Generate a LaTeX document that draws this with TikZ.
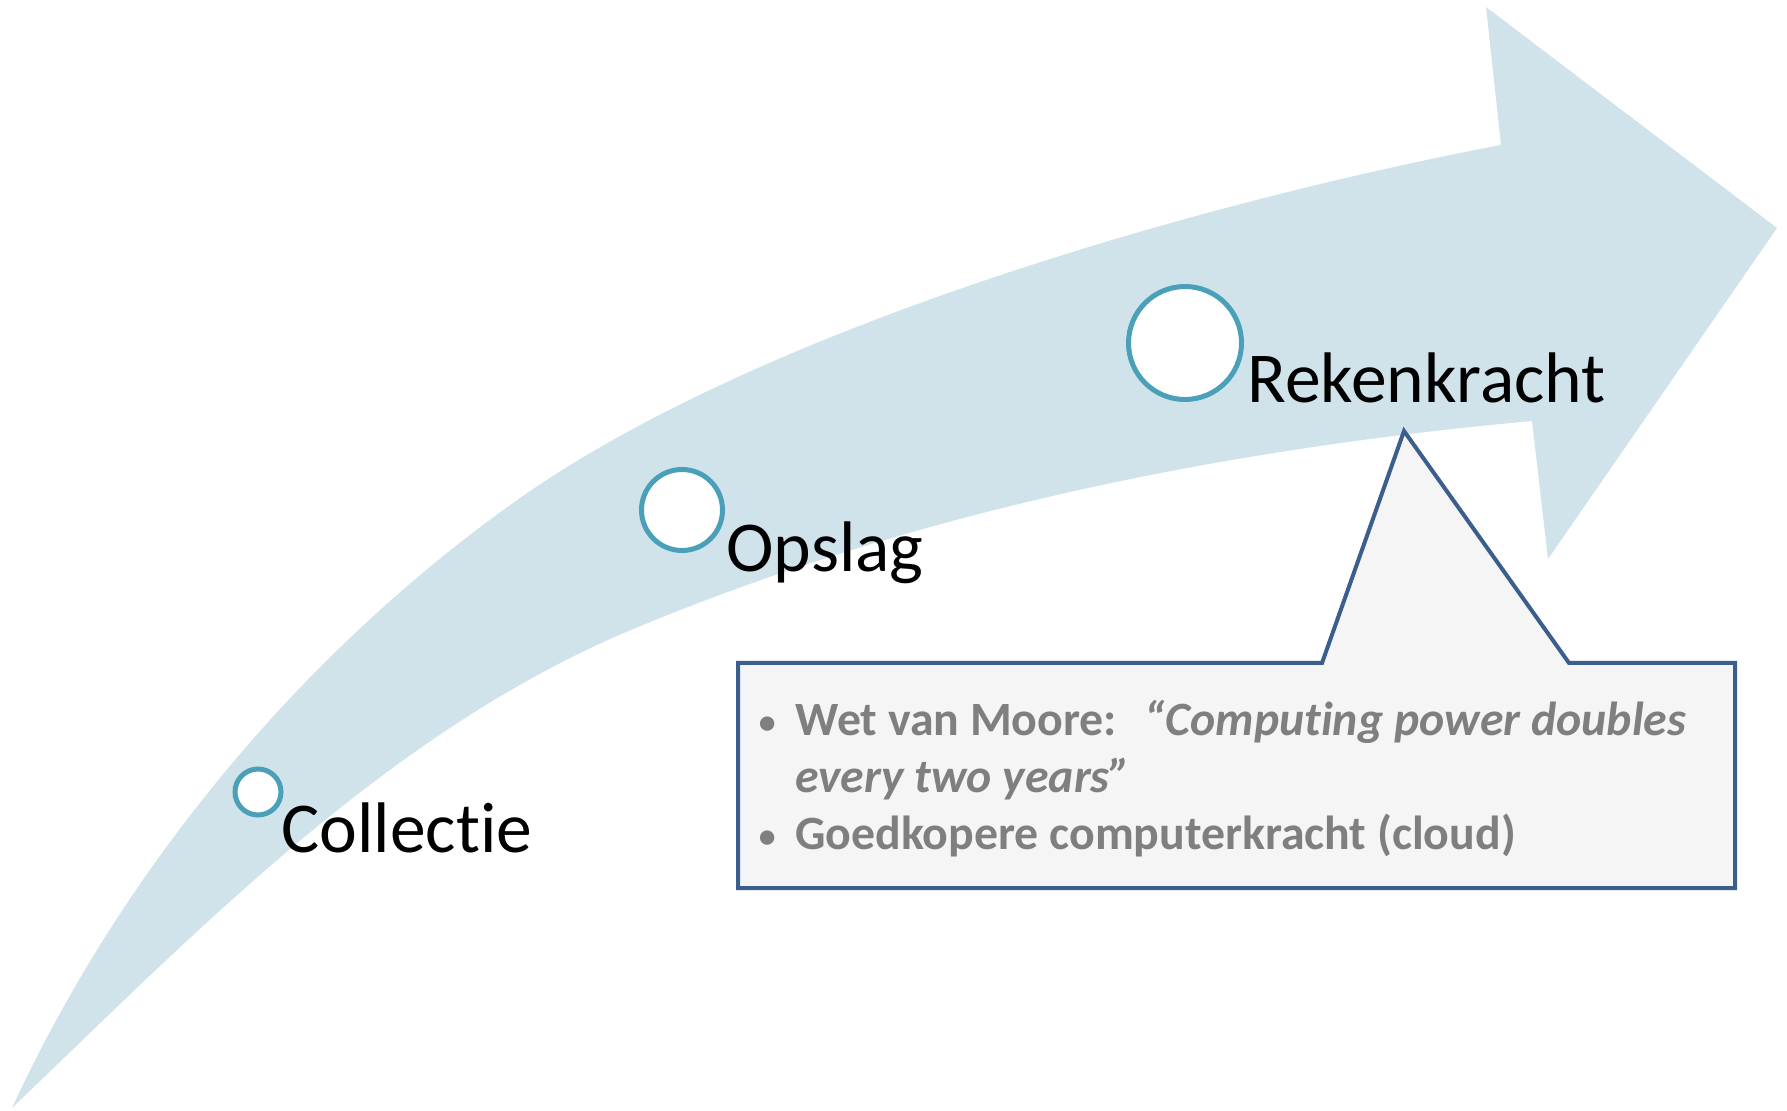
\documentclass[tikz,border=0pt]{standalone}
\usepackage{fontspec}
\setmainfont{Carlito}[Ligatures=NoCommon]
\usetikzlibrary{positioning}
\definecolor{bandblue}{RGB}{208,227,235}
\definecolor{ringteal}{RGB}{74,160,184}
\definecolor{calloutblue}{RGB}{59,94,140}
\definecolor{calloutfill}{RGB}{245,245,245}
\definecolor{notegray}{RGB}{127,127,127}

\begin{document}
\begin{tikzpicture}[x=0.5pt,y=-0.5pt,
  ring/.style={circle, draw=ringteal, fill=white, line width=2.5pt, inner sep=0pt},
  stage/.style={anchor=base west, inner sep=0pt, font=\fontsize{35.8}{40}\selectfont},
  note/.style={anchor=base west, inner sep=0pt, align=left, text=notegray,
    font=\bfseries\fontsize{23.9}{28.5}\selectfont}]
\useasboundingbox (0,0) rectangle (1787,1111);

% Curved arrow (band)
\fill[bandblue] (12,1108)
  .. controls (122,870) and (300,655) .. (513,503)
  .. controls (757,328) and (1206,201) .. (1501,145)
  -- (1486,7) -- (1777,228) -- (1548,559) -- (1532,421)
  .. controls (1225,449) and (915,511) .. (631,630)
  .. controls (390,731) and (200,928) .. (12,1108)
  -- cycle;

% Stages on the arrow
\foreach \nm/\x/\y/\d in {ringcoll/258/792/23, ringops/682/510/40.5, ringrek/1185/343/56.5} {
    \node[ring, minimum size=\d pt] (\nm) at (\x,\y) {};
}
\node[stage] (collectie) at (281,852) {Collectie};
\node[stage] (opslag) at (726,572) {Opslag};
\node[stage] (rekenkracht) at (1247,403) {Rekenkracht};

% Callout below Rekenkracht
\draw[calloutblue, fill=calloutfill, line width=2pt]
  (738,663) -- (1322,663) -- (1404,431) -- (1569,663) -- (1735,663) -- (1735,888) -- (738,888) -- cycle;
\node[note] (moore) at (749,735) {%
  \begin{tabular}[t]{@{}l@{\hspace{5pt}}l@{}}
    \makebox[18pt][c]{\mdseries\scalebox{0.85}{\textbullet}} & Wet van Moore:\hspace{14pt}\textit{“Computing power doubles} \\
      & \textit{every two years”} \\
    \makebox[18pt][c]{\mdseries\scalebox{0.85}{\textbullet}} & Goedkopere computerkracht (cloud)
  \end{tabular}};

\end{tikzpicture}
\end{document}
